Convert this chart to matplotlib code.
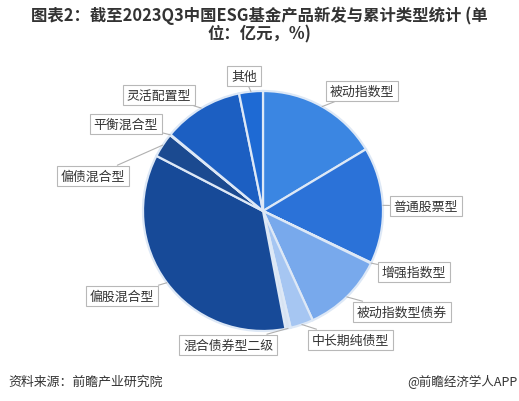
import matplotlib
matplotlib.use("Agg")
import matplotlib.pyplot as plt
import numpy as np

plt.rcParams['font.family'] = ['Noto Sans CJK SC', 'DejaVu Sans']

categories = ["被动指数型", "普通股票型", "增强指数型", "被动指数型债券", "中长期纯债型",
              "混合债券型二级", "偏股混合型", "偏债混合型", "平衡混合型", "灵活配置型", "其他"]
values = [16.4, 15.7, 0.1, 11.0, 3.1, 0.7, 35.6, 3.3, 0.1, 10.8, 3.2]
colors = ["#3b86e2", "#2b72d8", "#5b95e6", "#78a9ec", "#a6c6f2", "#d7e3f2",
          "#174a98", "#1b4a90", "#1a55a8", "#1c5fc2", "#1e6ad4"]
# label box centres in pixels (layout only)
label_pos_px = [(362, 92), (426, 207), (414, 273), (402, 313), (350, 341),
                (228, 346), (122, 297), (93, 177), (126, 125), (159, 96), (244, 77)]

W, H = 519, 402
fig = plt.figure(figsize=(W / 100, H / 100), dpi=100)
cx, cy, R = 263, 212, 120
half = 140
ax = fig.add_axes([(cx - half) / W, (H - cy - half) / H, 2 * half / W, 2 * half / H])

wedges, _ = ax.pie(values, colors=colors, startangle=90, counterclock=False, radius=1.0,
                   wedgeprops=dict(edgecolor="#dde8f6", linewidth=1.6))
lim = half / R
ax.set_xlim(-lim, lim)
ax.set_ylim(-lim, lim)
ax.set_aspect('equal')
ax.axis('off')

for w, lab, (px, py) in zip(wedges, categories, label_pos_px):
    ang = np.deg2rad((w.theta1 + w.theta2) / 2)
    xy = (np.cos(ang), np.sin(ang))
    tx, ty = (px - cx) / R, (cy - py) / R
    ax.annotate(lab, xy=xy, xytext=(tx, ty), ha='center', va='center',
                fontsize=9.3, color='#333333', annotation_clip=False,
                bbox=dict(boxstyle='square,pad=0.3', fc='white', ec='#b8b8b8', lw=0.8),
                arrowprops=dict(arrowstyle='-', color='#b0b0b0', lw=0.8,
                                shrinkA=0, shrinkB=0))

fig.text(0.5, 1 - 25 / H, "图表2：截至2023Q3中国ESG基金产品新发与累计类型统计 (单\n位：亿元，%)",
         ha='center', va='center', fontsize=11.8, fontweight='bold', color='#333333',
         linespacing=1.0)
fig.text(8 / W, 1 - 382 / H, "资料来源：前瞻产业研究院", ha='left', va='center',
         fontsize=9.3, color='#333333')
fig.text(517 / W, 1 - 382 / H, "@前瞻经济学人APP", ha='right', va='center',
         fontsize=9, color='#333333')

fig.savefig("out.png", dpi=100, facecolor='white')
